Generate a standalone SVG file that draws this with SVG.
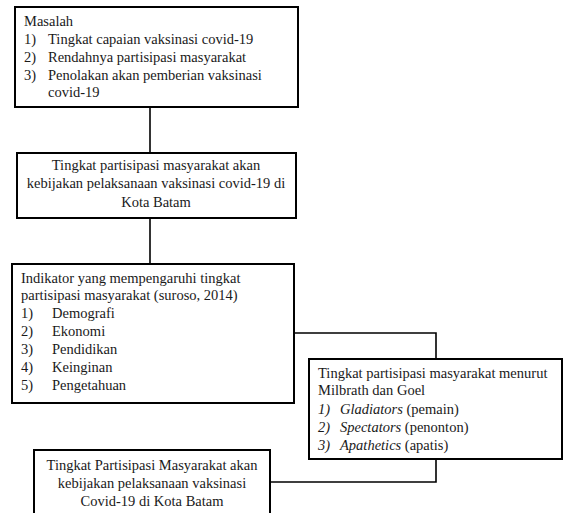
<svg xmlns="http://www.w3.org/2000/svg" width="563" height="513" viewBox="0 0 563 513">
<style>
.box{fill:#fff;stroke:#000;stroke-width:2}
.ln{fill:none;stroke:#000;stroke-width:1.6}
.t{font-family:'Liberation Serif','Times New Roman',serif;font-size:14.5px;fill:#1a1a1a}
.c{text-anchor:middle}
.i{font-style:italic}
</style>
<rect width="563" height="513" fill="#fff"/>
<g id="connectors">
<path class="ln" d="M150,107 V153"/>
<path class="ln" d="M150,218 V264"/>
<path class="ln" d="M294,333 H436 V359"/>
<path class="ln" d="M436,459 V482 H270"/>
</g>
<g id="masalah" class="t">
<rect class="box" x="15" y="7" width="283" height="100"/>
<text x="24" y="26">Masalah</text>
<text x="24" y="44">1)</text><text x="48" y="44">Tingkat capaian vaksinasi covid-19</text>
<text x="24" y="62">2)</text><text x="48" y="62">Rendahnya partisipasi masyarakat</text>
<text x="24" y="80">3)</text><text x="48" y="80">Penolakan akan pemberian vaksinasi</text>
<text x="48" y="97">covid-19</text>
</g>
<g id="tingkat" class="t">
<rect class="box" x="17" y="153" width="279" height="65"/>
<text class="c" x="156" y="170">Tingkat partisipasi masyarakat akan</text>
<text class="c" x="156" y="188">kebijakan pelaksanaan vaksinasi covid-19 di</text>
<text class="c" x="156" y="207">Kota Batam</text>
</g>
<g id="indikator" class="t">
<rect class="box" x="12" y="264" width="282" height="139"/>
<text x="21" y="283">Indikator yang mempengaruhi tingkat</text>
<text x="21" y="300">partisipasi masyarakat (suroso, 2014)</text>
<text x="21" y="318">1)</text><text x="52" y="318">Demografi</text>
<text x="21" y="336">2)</text><text x="52" y="336">Ekonomi</text>
<text x="21" y="354">3)</text><text x="52" y="354">Pendidikan</text>
<text x="21" y="372">4)</text><text x="52" y="372">Keinginan</text>
<text x="21" y="390">5)</text><text x="52" y="390">Pengetahuan</text>
</g>
<g id="milbrath" class="t">
<rect class="box" x="309" y="359" width="253" height="100"/>
<text x="318" y="378">Tingkat partisipasi masyarakat menurut</text>
<text x="318" y="395">Milbrath dan Goel</text>
<text class="i" x="318" y="414">1)</text><text x="340" y="414"><tspan class="i">Gladiators</tspan> (pemain)</text>
<text class="i" x="318" y="432">2)</text><text x="340" y="432"><tspan class="i">Spectators</tspan> (penonton)</text>
<text class="i" x="318" y="450">3)</text><text x="340" y="450"><tspan class="i">Apathetics</tspan> (apatis)</text>
</g>
<g id="hasil" class="t">
<rect class="box" x="34" y="450" width="236" height="70"/>
<text class="c" x="152" y="470">Tingkat Partisipasi Masyarakat akan</text>
<text class="c" x="152" y="488">kebijakan pelaksanaan vaksinasi</text>
<text class="c" x="152" y="506">Covid-19 di Kota Batam</text>
</g>
</svg>
